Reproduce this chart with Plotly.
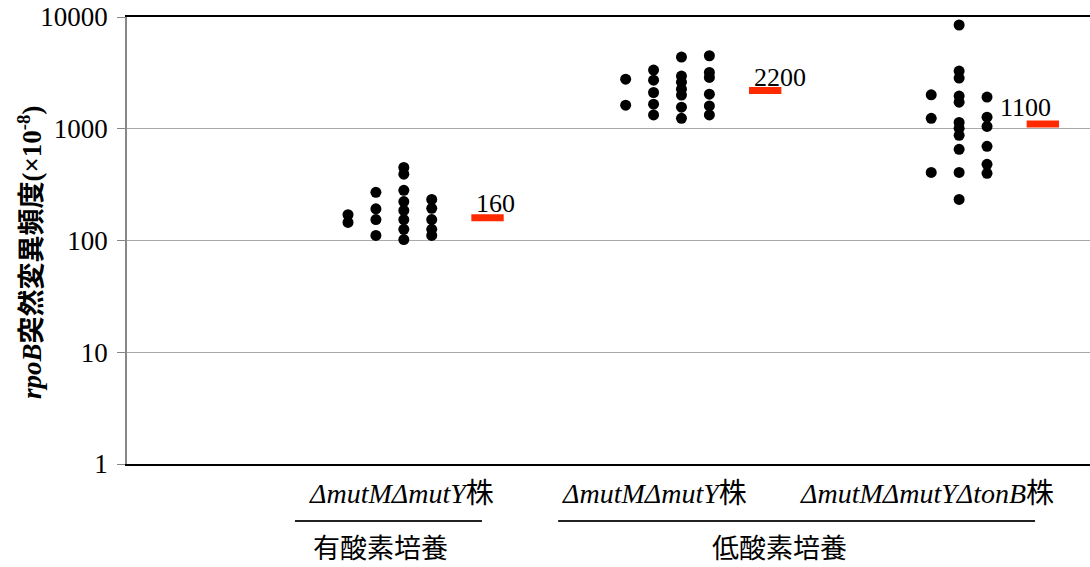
import math
import plotly.graph_objects as go

# Mutation frequency (x10^-8) per culture, binned into columns within each strain group
aerobic_mutMY = [
    [170, 145],
    [270, 192, 154, 111],
    [450, 392, 281, 223, 186, 154, 126, 102],
    [233, 194, 154, 126, 111],
]
hypoxic_mutMY = [
    [2780, 1625],
    [3350, 2720, 2110, 1660, 1330],
    [4380, 2960, 2610, 2260, 2000, 1560, 1240],
    [4500, 3190, 2880, 2040, 1600, 1330],
]
hypoxic_mutMY_tonB = [
    [],
    [2010, 1240, 407],
    [8480, 3280, 2840, 1960, 1730, 1140, 1010, 874, 655, 407, 233],
    [1920, 1270, 1050, 697, 481, 399],
]
groups = [aerobic_mutMY, hypoxic_mutMY, hypoxic_mutMY_tonB]
medians = [160, 2200, 1100]
median_labels = ["160", "2200", "1100"]
strain_labels = [
    "<i>Δ</i><i>mutM</i><i>Δ</i><i>mutY</i>株",
    "<i>Δ</i><i>mutM</i><i>Δ</i><i>mutY</i>株",
    "<i>Δ</i><i>mutM</i><i>Δ</i><i>mutY</i><i>Δ</i><i>tonB</i>株",
]
condition_labels = ["有酸素培養", "低酸素培養"]
y_ticks = [1, 10, 100, 1000, 10000]

GROUP_STEP = 9.95   # x distance between strain groups (in column units)
BAR_OFFSET = 5      # median bar offset from first column
BAR_HALF = 0.58
SERIF = "Liberation Serif, Times New Roman, Noto Sans CJK JP, serif"

fig = go.Figure()

# dots
xs, ys = [], []
for g, cols in enumerate(groups):
    base = g * GROUP_STEP
    for k, col in enumerate(cols):
        for v in col:
            xs.append(base + k)
            ys.append(v)
fig.add_trace(go.Scatter(
    x=xs, y=ys, mode="markers",
    marker=dict(color="black", size=11, line=dict(width=0)),
    hoverinfo="y", showlegend=False,
))

# median bars
bx, by = [], []
for g, m in enumerate(medians):
    c = g * GROUP_STEP + BAR_OFFSET
    bx += [c - BAR_HALF, c + BAR_HALF, None]
    by += [m, m, None]
fig.add_trace(go.Scatter(
    x=bx, y=by, mode="lines",
    line=dict(color="#ff2a00", width=7),
    hoverinfo="skip", showlegend=False,
))

# median value labels (annotation y on a log axis is given as log10)
label_shift = [(8, 14), (15, 13), (-17, 17)]
for g, (m, t) in enumerate(zip(medians, median_labels)):
    dx, dy = label_shift[g]
    fig.add_annotation(
        x=g * GROUP_STEP + BAR_OFFSET, y=math.log10(m), xref="x", yref="y",
        text=t, showarrow=False, xshift=dx, yshift=dy,
        xanchor="center", yanchor="middle",
        font=dict(family=SERIF, size=26, color="black"),
    )

# strain labels under the axis
strain_x = [1.9, 10.97, 20.75]
for xpos, t in zip(strain_x, strain_labels):
    fig.add_annotation(
        x=xpos, y=-0.065, xref="x", yref="paper", text=t, showarrow=False,
        xanchor="center", yanchor="middle",
        font=dict(family=SERIF, size=28, color="black"),
    )

# condition brackets
spans = [(-1.9, 4.8), (7.53, 24.62)]
cond_x = [1.18, 15.45]
for (x0, x1), cx, t in zip(spans, cond_x, condition_labels):
    fig.add_shape(type="line", xref="x", yref="paper", x0=x0, x1=x1,
                  y0=-0.1275, y1=-0.1275, line=dict(color="#222222", width=2))
    fig.add_annotation(
        x=cx, y=-0.19, xref="x", yref="paper", text=t, showarrow=False,
        xanchor="center", yanchor="middle",
        font=dict(family=SERIF, size=27, color="black"),
    )

# y-axis title
fig.add_annotation(
    x=0, y=0.474, xref="paper", yref="paper", xshift=-97,
    xanchor="center", yanchor="middle",
    text="<b><i>rpoB</i>突然変異頻度(×10<sup>-8</sup>)</b>",
    textangle=-90, showarrow=False,
    font=dict(family=SERIF, size=27, color="black"),
)

fig.update_layout(
    width=1090, height=567,
    margin=dict(l=127, r=0, t=17, b=103),
    paper_bgcolor="white", plot_bgcolor="white",
    font=dict(family=SERIF, color="black"),
)
fig.update_xaxes(
    range=[-7.92, 26.59], showgrid=False, zeroline=False,
    showticklabels=False, ticks="",
    showline=True, linecolor="black", linewidth=1.5, mirror=True,
)
fig.update_yaxes(
    type="log", range=[0, 4],
    tickvals=y_ticks, ticktext=[str(v) for v in y_ticks],
    tickfont=dict(family=SERIF, size=27, color="black"),
    ticks="outside", ticklen=8, tickcolor="#888888", tickwidth=1,
    showgrid=True, gridcolor="#aaaaaa", gridwidth=1,
    showline=True, linecolor="#888888", linewidth=1.5,
    zeroline=False, ticklabelstandoff=4,
)

fig.write_html("out.html")
